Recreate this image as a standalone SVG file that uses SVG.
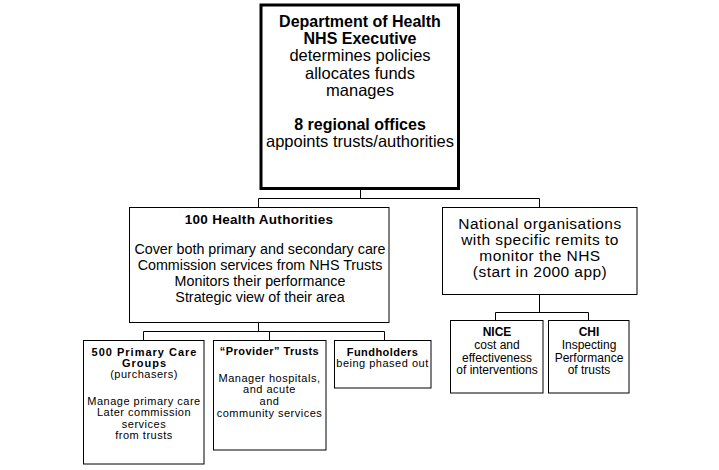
<svg xmlns="http://www.w3.org/2000/svg" width="719" height="470" viewBox="0 0 719 470">
<style>
  .box{fill:#fff;stroke:#000;stroke-width:1}
  .thick{fill:#fff;stroke:#000;stroke-width:3}
  .con{fill:none;stroke:#000;stroke-width:1}
  text{font-family:"Liberation Sans",Arial,sans-serif;fill:#000;text-anchor:middle}
  .b16{font-size:16px;font-weight:bold}
  .r16{font-size:16.5px}
  .r15{font-size:15.5px;letter-spacing:0.45px}
  .b13{font-size:13.5px;font-weight:bold;letter-spacing:0.3px}
  .r14{font-size:14.3px}
  .b12{font-size:12px;font-weight:bold}
  .r12{font-size:12px}
  .b11{font-size:11px;font-weight:bold;letter-spacing:0.45px}
  .r11{font-size:11px;letter-spacing:0.5px}
</style>
<rect width="719" height="470" fill="#fff"/>
<g id="connectors">
  <path class="con" d="M360.5 190 V198.5 M258.5 198.5 H539.5 M258.5 198.5 V207.5 M539.5 198.5 V207.5"/>
  <path class="con" d="M258.5 322.5 V331.5 M143.5 331.5 H384.5 M143.5 331.5 V340 M269.5 331.5 V340 M384.5 331.5 V340"/>
  <path class="con" d="M539.5 294.5 V312.5 M495.5 312.5 H588.5 M495.5 312.5 V320.5 M588.5 312.5 V320.5"/>
</g>
<g id="dept">
  <rect class="thick" x="261" y="5" width="197.5" height="183.5"/>
  <text class="b16" x="360" y="27">Department of Health</text>
  <text class="b16" x="360" y="44">NHS Executive</text>
  <text class="r16" x="360" y="61">determines policies</text>
  <text class="r16" x="360" y="78.5">allocates funds</text>
  <text class="r16" x="360" y="95.5">manages</text>
  <text class="b16" x="360" y="130">8 regional offices</text>
  <text class="r16" x="360" y="147">appoints trusts/authorities</text>
</g>
<g id="health-authorities">
  <rect class="box" x="129.5" y="207.5" width="259.5" height="115"/>
  <text class="b13" x="259" y="223.5">100 Health Authorities</text>
  <text class="r14" x="260" y="253.5">Cover both primary and secondary care</text>
  <text class="r14" x="260" y="270">Commission services from NHS Trusts</text>
  <text class="r14" x="260" y="286">Monitors their performance</text>
  <text class="r14" x="260" y="302">Strategic view of their area</text>
</g>
<g id="national">
  <rect class="box" x="442.5" y="207.5" width="194.5" height="87"/>
  <text class="r15" x="540" y="228.5">National organisations</text>
  <text class="r15" x="540" y="245">with specific remits to</text>
  <text class="r15" x="540" y="261">monitor the NHS</text>
  <text class="r15" x="540" y="277">(start in 2000 app)</text>
</g>
<g id="nice">
  <rect class="box" x="450.5" y="320.5" width="92.5" height="72.5"/>
  <text class="b12" x="497" y="336">NICE</text>
  <text class="r12" x="497" y="349">cost and</text>
  <text class="r12" x="497" y="361.5">effectiveness</text>
  <text class="r12" x="497" y="374">of interventions</text>
</g>
<g id="chi">
  <rect class="box" x="548.5" y="320.5" width="80.5" height="72.5"/>
  <text class="b12" x="589" y="336">CHI</text>
  <text class="r12" x="589" y="349">Inspecting</text>
  <text class="r12" x="589" y="361.5">Performance</text>
  <text class="r12" x="589" y="374">of trusts</text>
</g>
<g id="pcg">
  <rect class="box" x="83.5" y="340.5" width="120.5" height="123.5"/>
  <text class="b11" x="144.5" y="355.7" style="letter-spacing:1px">500 Primary Care</text>
  <text class="b11" x="144.5" y="367" style="letter-spacing:1px">Groups</text>
  <text class="r11" x="144" y="378.3">(purchasers)</text>
  <text class="r11" x="144" y="405">Manage primary care</text>
  <text class="r11" x="144" y="416.3">Later commission</text>
  <text class="r11" x="144" y="427.6">services</text>
  <text class="r11" x="144" y="439">from trusts</text>
</g>
<g id="provider">
  <rect class="box" x="213.5" y="340.5" width="112.5" height="109.5"/>
  <text class="b11" x="269.5" y="355">“Provider” Trusts</text>
  <text class="r11" x="269.5" y="381.5">Manager hospitals,</text>
  <text class="r11" x="269.5" y="393">and acute</text>
  <text class="r11" x="269.5" y="405">and</text>
  <text class="r11" x="269.5" y="416.5">community services</text>
</g>
<g id="fundholders">
  <rect class="box" x="334.5" y="340.5" width="96.5" height="47.5"/>
  <text class="b11" x="382.5" y="355.5">Fundholders</text>
  <text class="r11" x="382.5" y="367">being phased out</text>
</g>
</svg>
